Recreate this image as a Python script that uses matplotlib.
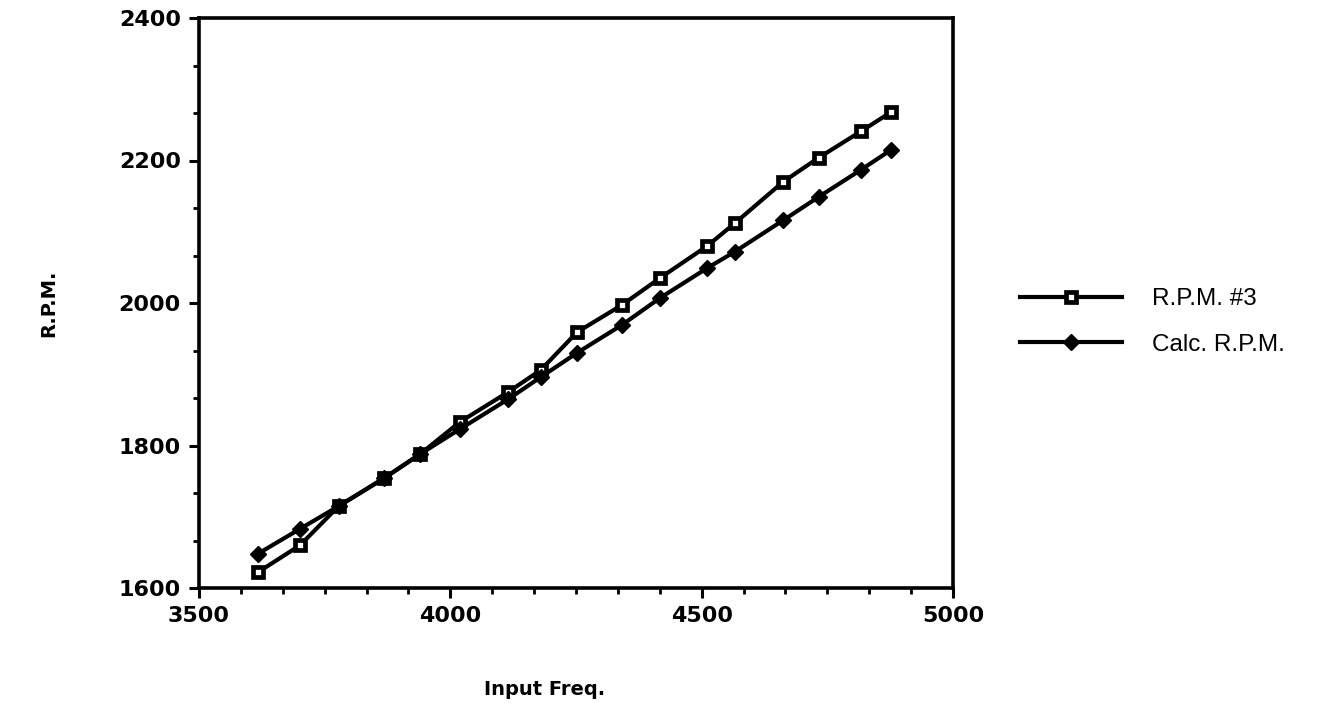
# rpm_vs_freq.py
# Measured vs calculated R.P.M. against input frequency
# Output: out.png

import matplotlib.pyplot as plt
from matplotlib.ticker import MultipleLocator

# input frequency at each test point
input_freq = [3617, 3701, 3778, 3868, 3940, 4019, 4115, 4180, 4252,
              4341, 4417, 4511, 4566, 4662, 4733, 4817, 4877]

# measured R.P.M. (run #3)
rpm_3 = [1622, 1660, 1715, 1754, 1788, 1833, 1875, 1906, 1959,
         1997, 2035, 2080, 2112, 2170, 2204, 2241, 2268]

# calculated R.P.M.
calc_rpm = [1648, 1683, 1715, 1754, 1788, 1823, 1865, 1896, 1930,
            1969, 2007, 2049, 2072, 2116, 2149, 2187, 2215]

x_ticks = [3500, 4000, 4500, 5000]
y_ticks = [1600, 1800, 2000, 2200, 2400]

TICK_FONT = dict(family="DejaVu Sans", weight="bold", size=16)
LABEL_FONT = dict(family="DejaVu Sans", weight="bold", size=14)


def main():
    fig = plt.figure(figsize=(13.2, 7.05), dpi=100)
    ax = fig.add_axes([199 / 1320, 1 - 588 / 705, 754 / 1320, 570 / 705])

    ax.plot(input_freq, rpm_3, color="black", lw=3.0, marker="s",
            ms=6.5, mew=3.4, mfc="white", mec="black", label="R.P.M. #3",
            solid_joinstyle="round")
    ax.plot(input_freq, calc_rpm, color="black", lw=3.0, marker="D",
            ms=8, mfc="black", mec="black", label="Calc. R.P.M.",
            solid_joinstyle="round")

    ax.set_xlim(x_ticks[0], x_ticks[-1])
    ax.set_ylim(y_ticks[0], y_ticks[-1])
    ax.set_xticks(x_ticks)
    ax.set_yticks(y_ticks)
    ax.xaxis.set_minor_locator(MultipleLocator(500 / 6))
    ax.yaxis.set_minor_locator(MultipleLocator(200 / 3))

    for side in ax.spines.values():
        side.set_linewidth(2.6)
        side.set_color("black")

    ax.tick_params(which="major", direction="out", length=7, width=2.2,
                   pad=6, colors="black")
    ax.tick_params(which="minor", direction="out", length=4, width=2.0)
    for lbl in ax.get_xticklabels() + ax.get_yticklabels():
        lbl.set(**TICK_FONT)

    ax.set_xlabel("Input Freq.", **LABEL_FONT)
    ax.set_ylabel("R.P.M.", **LABEL_FONT)
    ax.xaxis.set_label_coords(346 / 754, -92 / 570)
    ax.yaxis.set_label_coords(-141 / 754, 0.5)

    fig.legend(loc="center left",
               bbox_to_anchor=(1020 / 1320, 1 - 322 / 705),
               frameon=False, numpoints=1, borderpad=0,
               borderaxespad=0, handlelength=4.2, handletextpad=1.25,
               labelspacing=0.95,
               prop=dict(family="Liberation Sans", size=17.5))

    fig.savefig("out.png", dpi=100, facecolor="white")


if __name__ == "__main__":
    main()
